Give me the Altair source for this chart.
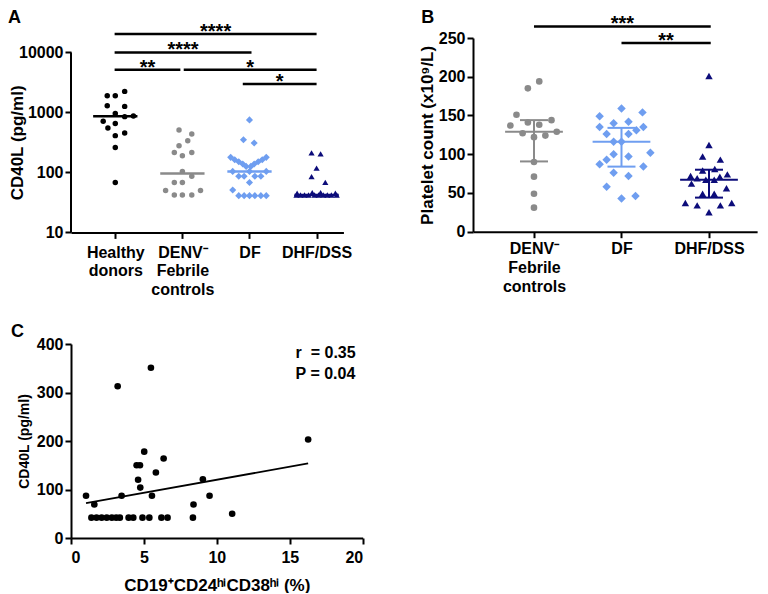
import altair as alt
import pandas as pd

FONT = "Liberation Sans, Arial, sans-serif"
BLACK = "#000000"
GRAY = "#8a8a8a"
LBLUE = "#6f9ef0"
NAVY = "#0c0c7a"

# ---------------- Panel A data ----------------
A_labels = [["Healthy", "donors"], ["DENV⁻", "Febrile", "controls"], ["DF"], ["DHF/DSS"]]
A_hd_dx = [-0.12, 0.0, 0.14, -0.12, 0.14, 0.0, 0.14, 0.27, -0.18, 0.0, -0.11, 0.14, 0.0, 0.0, 0.0]
A_hd_y = [1900, 1900, 2240, 1295, 1260, 960, 850, 870, 710, 655, 550, 455, 410, 260, 68]
A_denv_dx = [-0.05, 0.14, 0.08, -0.05, -0.12, 0.0, 0.14, 0.0, 0.14, -0.12, 0.0, -0.25, 0.27, -0.12, 0.0, 0.14]
A_denv_y = [509, 436, 337, 279, 215, 190, 215, 104, 86, 68, 68, 50, 50, 42, 42, 42]
A_df_dx = [0.0, -0.09, 0.07, -0.28, -0.22, -0.16, -0.10, -0.05, 0.25, 0.19, 0.13, 0.07, 0.02,
           -0.25, 0.0, 0.25, -0.16, -0.08, 0.08, 0.17, 0.0, -0.25, -0.16, -0.08, 0.0, 0.08, 0.17, 0.25]
A_df_y = [750, 350, 310, 178, 163, 151, 138, 126, 178, 163, 151, 138, 126,
          104, 104, 104, 86, 86, 86, 86, 68, 51, 41, 41, 41, 41, 41, 41]
A_dhf_dx = [-0.075, 0.06, 0.0, -0.075, 0.13, -0.29, -0.065, 0.06, 0.28,
            -0.3, -0.24, -0.18, -0.12, -0.03, 0.03, 0.1, 0.16, 0.22, 0.3]
A_dhf_y = [211, 203, 118, 85, 68, 45, 46, 46, 45, 42, 42, 42, 42, 42, 42, 42, 42, 42, 42]
A_medians = [860, 96, 104, 42]
A_sig_x1 = [0.99, 0.99, 0.99, 2.02, 2.9]
A_sig_x2 = [4.0, 3.03, 1.97, 4.0, 4.0]
A_sig_y = [20300, 10000, 5150, 5150, 2970]
A_sig_txt = ["****", "****", "**", "*", "*"]
A_ticks = [10, 100, 1000, 10000]

# ---------------- Panel B data ----------------
B_labels = [["DENV⁻", "Febrile", "controls"], ["DF"], ["DHF/DSS"]]
B_denv_dx = [0.06, -0.07, -0.2, -0.27, -0.07, 0.06, 0.2, -0.13, 0.0, 0.13, 0.26, 0.0, 0.0, 0.0, 0.0]
B_denv_y = [194, 185, 151, 137, 141, 138, 144, 127, 122, 124, 129, 90, 71, 49, 31]
B_df_dx = [0.0, -0.25, 0.24, -0.09, 0.08, -0.25, 0.25, -0.17, 0.08, 0.17, -0.09, 0.0,
           -0.09, -0.17, -0.25, 0.08, 0.25, -0.09, 0.08, -0.17, 0.0, 0.16, 0.33]
B_df_y = [159, 149, 154, 140, 142, 135, 135, 126, 126, 131, 116, 116,
          100, 93, 87, 97, 84, 76, 72, 58, 43, 46, 102]
B_dhf_dx = [0.0, 0.0, -0.073, 0.13, 0.066, -0.073, 0.21, -0.21, -0.135, -0.036, 0.06,
            0.124, -0.2, 0.2, -0.073, 0.06, -0.27, -0.135, 0.13, 0.26, 0.0]
B_dhf_y = [201, 112, 97, 93, 81, 79, 74, 72, 69, 67, 67, 71, 62, 56, 49, 49, 37, 34, 34, 37, 25]
B_median = [129, 116, 67]
B_q1 = [90.7, 84, 44]
B_q3 = [144, 134, 80]
B_sig_x1 = [1.0, 2.0]
B_sig_x2 = [3.02, 3.02]
B_sig_y = [265, 243.5]
B_sig_txt = ["***", "**"]

# ---------------- Panel C data ----------------
C_x = [1.03, 1.6, 1.4, 1.75, 2.1, 2.45, 2.8, 3.1, 3.35, 3.95, 4.27, 4.9, 5.37, 6.2, 6.62, 8.36,
       3.2, 5.48, 3.47, 4.5, 4.73, 4.6, 4.75, 5.02, 5.55, 5.82, 6.35, 8.4, 9.04, 9.5, 11.05, 16.26]
C_y = [87, 69, 42, 42, 42, 42, 42, 42, 42, 42, 42, 42, 42, 42, 42, 42,
       313, 351, 87, 150, 150, 120, 104, 178, 87, 135, 164, 69, 121, 87, 50, 203]
C_fit_x = [1.03, 16.26]
C_fit_y = [71.7, 153.8]
C_stats = ["r\u00a0\u00a0= 0.35", "P = 0.04"]
C_stats_y = [382, 339]

# ---------------- layout constants ----------------
A_XMIN, A_XMAX = 0.34, 4.40
A_UNIT = 67.1
A_DECADE_PX = 60.0
A_TOP_EXTRA = 0.24          # extra headroom (in decades) above 10000, no axis line there
B_XMIN, B_XMAX = 0.303, 3.55
B_UNIT = 87.5
MED_HALF = 0.33
CAP_HALF = 0.16


def label_expr(lines_list):
    parts = []
    for i, lines in enumerate(lines_list):
        arr = "[" + ",".join("'" + s + "'" for s in lines) + "]"
        parts.append("datum.value == %d ? %s : " % (i + 1, arr))
    return "".join(parts) + "''"


def points_df(center, dxs, ys):
    return pd.DataFrame({"x": [center + d for d in dxs], "y": ys})


def letter(txt, xv, yv):
    return alt.Chart(pd.DataFrame({"t": [txt]})).mark_text(
        align="left", baseline="top", fontSize=18, fontWeight="bold", font=FONT, color=BLACK
    ).encode(x=alt.value(xv), y=alt.value(yv), text="t:N")


# ================= Panel A =================
A_YTOP = 10 ** (4 + A_TOP_EXTRA)
xsA = alt.Scale(domain=[A_XMIN, A_XMAX], nice=False, zero=False)
ysA = alt.Scale(type="log", domain=[10, A_YTOP], nice=False)
axA_x = alt.Axis(values=[1, 2, 3, 4], labelExpr=label_expr(A_labels), title=None,
                 labelPadding=6, labelLineHeight=18.5, labelOverlap=False, labelFlush=False)
axA_y = alt.Axis(values=A_ticks, format="d", title="CD40L (pg/ml)", domain=False,
                 titleX=-45, titleY=(A_TOP_EXTRA * A_DECADE_PX) + 90, labelOverlap=False)


def XA(field="x"):
    return alt.X(field + ":Q", scale=xsA, axis=axA_x)


def YA(field="y"):
    return alt.Y(field + ":Q", scale=ysA, axis=axA_y)


a_base = alt.Chart(points_df(1, A_hd_dx, A_hd_y)).mark_point(
    filled=True, shape="circle", size=30, color=BLACK, opacity=1
).encode(x=XA(), y=YA())
a_denv = alt.Chart(points_df(2, A_denv_dx, A_denv_y)).mark_point(
    filled=True, shape="circle", size=30, color=GRAY, opacity=1
).encode(x=XA(), y=YA())
a_df = alt.Chart(points_df(3, A_df_dx, A_df_y)).mark_point(
    filled=True, shape="diamond", size=50, color=LBLUE, opacity=1
).encode(x=XA(), y=YA())
a_dhf = alt.Chart(points_df(4, A_dhf_dx, A_dhf_y)).mark_point(
    filled=True, shape="triangle-up", size=38, color=NAVY, opacity=1
).encode(x=XA(), y=YA())

# y axis line drawn only from 10 to 10000
a_yline = alt.Chart(pd.DataFrame({"x": [A_XMIN], "y": [A_ticks[0]], "y2": [A_ticks[-1]]})).mark_rule(
    strokeWidth=2, color=BLACK
).encode(x=XA(), y=YA(), y2="y2:Q")

a_med_df = pd.DataFrame({
    "x": [i + 1 - MED_HALF for i in range(4)],
    "x2": [i + 1 + MED_HALF for i in range(4)],
    "y": A_medians,
    "g": ["hd", "denv", "df", "dhf"],
})
a_med = alt.Chart(a_med_df).mark_rule(strokeWidth=2.5).encode(
    x=XA(), x2="x2:Q", y=YA(),
    color=alt.Color("g:N", scale=alt.Scale(domain=["hd", "denv", "df", "dhf"],
                                           range=[BLACK, GRAY, LBLUE, NAVY]), legend=None),
)

a_sig_df = pd.DataFrame({"x": A_sig_x1, "x2": A_sig_x2, "y": A_sig_y, "t": A_sig_txt})
a_sig_df["m"] = (a_sig_df["x"] + a_sig_df["x2"]) / 2
a_sig = alt.Chart(a_sig_df).mark_rule(strokeWidth=2.5, color=BLACK).encode(x=XA(), x2="x2:Q", y=YA())
a_star = alt.Chart(a_sig_df).mark_text(
    fontSize=20, fontWeight="bold", font=FONT, baseline="alphabetic", dy=4, color=BLACK
).encode(x=XA("m"), y=YA(), text="t:N")

panelA = alt.layer(
    a_yline, a_base, a_denv, a_df, a_dhf, a_med, a_sig, a_star, letter("A", -63, -29.3)
).properties(width=(A_XMAX - A_XMIN) * A_UNIT, height=(3 + A_TOP_EXTRA) * A_DECADE_PX)

# ================= Panel B =================
xsB = alt.Scale(domain=[B_XMIN, B_XMAX], nice=False, zero=False)
ysB = alt.Scale(domain=[0, 250], nice=False)
axB_x = alt.Axis(values=[1, 2, 3], labelExpr=label_expr(B_labels), title=None,
                 labelPadding=3, labelLineHeight=19, labelOverlap=False, labelFlush=False)
axB_y = alt.Axis(values=[0, 50, 100, 150, 200, 250], title="Platelet count (x10⁹/L)",
                 titlePadding=2)


def XB(field="x"):
    return alt.X(field + ":Q", scale=xsB, axis=axB_x)


def YB(field="y"):
    return alt.Y(field + ":Q", scale=ysB, axis=axB_y)


b_denv = alt.Chart(points_df(1, B_denv_dx, B_denv_y)).mark_point(
    filled=True, shape="circle", size=44, color=GRAY, opacity=1
).encode(x=XB(), y=YB())
b_df = alt.Chart(points_df(2, B_df_dx, B_df_y)).mark_point(
    filled=True, shape="diamond", size=72, color=LBLUE, opacity=1
).encode(x=XB(), y=YB())
b_dhf = alt.Chart(points_df(3, B_dhf_dx, B_dhf_y)).mark_point(
    filled=True, shape="triangle-up", size=55, color=NAVY, opacity=1
).encode(x=XB(), y=YB())

gcol = alt.Color("g:N", scale=alt.Scale(domain=["denv", "df", "dhf"], range=[GRAY, LBLUE, NAVY]),
                 legend=None)
b_stat = pd.DataFrame({"c": [1, 2, 3], "med": B_median, "q1": B_q1, "q3": B_q3,
                       "g": ["denv", "df", "dhf"]})
b_stat["ml"] = b_stat["c"] - MED_HALF
b_stat["mr"] = b_stat["c"] + MED_HALF
b_stat["cl"] = b_stat["c"] - CAP_HALF
b_stat["cr"] = b_stat["c"] + CAP_HALF
b_medl = alt.Chart(b_stat).mark_rule(strokeWidth=2).encode(x=XB("ml"), x2="mr:Q", y=YB("med"), color=gcol)
b_q1l = alt.Chart(b_stat).mark_rule(strokeWidth=2).encode(x=XB("cl"), x2="cr:Q", y=YB("q1"), color=gcol)
b_q3l = alt.Chart(b_stat).mark_rule(strokeWidth=2).encode(x=XB("cl"), x2="cr:Q", y=YB("q3"), color=gcol)
b_vl = alt.Chart(b_stat).mark_rule(strokeWidth=2).encode(x=XB("c"), y=YB("q1"), y2="q3:Q", color=gcol)

b_sig_df = pd.DataFrame({"x": B_sig_x1, "x2": B_sig_x2, "y": B_sig_y, "t": B_sig_txt})
b_sig_df["m"] = (b_sig_df["x"] + b_sig_df["x2"]) / 2
b_sig = alt.Chart(b_sig_df).mark_rule(strokeWidth=2.5, color=BLACK).encode(x=XB(), x2="x2:Q", y=YB())
b_star = alt.Chart(b_sig_df).mark_text(
    fontSize=20, fontWeight="bold", font=FONT, baseline="alphabetic", dy=4, color=BLACK
).encode(x=XB("m"), y=YB(), text="t:N")

panelB = alt.layer(
    b_denv, b_df, b_dhf, b_vl, b_medl, b_q1l, b_q3l, b_sig, b_star, letter("B", -51.7, -29.3)
).properties(width=(B_XMAX - B_XMIN) * B_UNIT, height=193.7)

# ================= Panel C =================
xsC = alt.Scale(domain=[0, 20], nice=False)
ysC = alt.Scale(domain=[0, 400], nice=False)
axC_x = alt.Axis(values=[0, 5, 10, 15, 20], title="CD19⁺CD24ʰⁱCD38ʰⁱ (%)", labelPadding=5,
                 titlePadding=12)
axC_y = alt.Axis(values=[0, 100, 200, 300, 400], title="CD40L (pg/ml)", titlePadding=5,
                 titleFontSize=14)


def XC():
    return alt.X("x:Q", scale=xsC, axis=axC_x)


def YC():
    return alt.Y("y:Q", scale=ysC, axis=axC_y)


c_pts = alt.Chart(pd.DataFrame({"x": C_x, "y": C_y})).mark_point(
    filled=True, shape="circle", size=44, color=BLACK, opacity=1
).encode(x=XC(), y=YC())
c_fit = alt.Chart(pd.DataFrame({"x": C_fit_x, "y": C_fit_y})).mark_line(
    color=BLACK, strokeWidth=1.8
).encode(x=XC(), y=YC())
c_txt = alt.Chart(pd.DataFrame({"t": C_stats, "y": C_stats_y, "x": [15.4, 15.4]})).mark_text(
    align="left", baseline="middle", fontSize=16, fontWeight="bold", font=FONT, color=BLACK
).encode(x=XC(), y=YC(), text="t:N")

panelC = alt.layer(c_pts, c_fit, c_txt, letter("C", -60, -21.3)).properties(width=291.7, height=194)

top = alt.hconcat(panelA, panelB, spacing=66)
chart = alt.vconcat(top, panelC, spacing=24).properties(
    padding=0, background="white"
).configure_view(stroke=None).configure_axis(
    labelFont=FONT, labelFontSize=16, labelFontWeight="bold", labelColor=BLACK,
    titleFont=FONT, titleFontSize=17, titleFontWeight="bold", titleColor=BLACK,
    domainColor=BLACK, domainWidth=2, tickColor=BLACK, tickWidth=2, tickSize=6,
    grid=False, labelPadding=2,
)

chart.save("out.html", embed_options={"renderer": "svg", "actions": False})
